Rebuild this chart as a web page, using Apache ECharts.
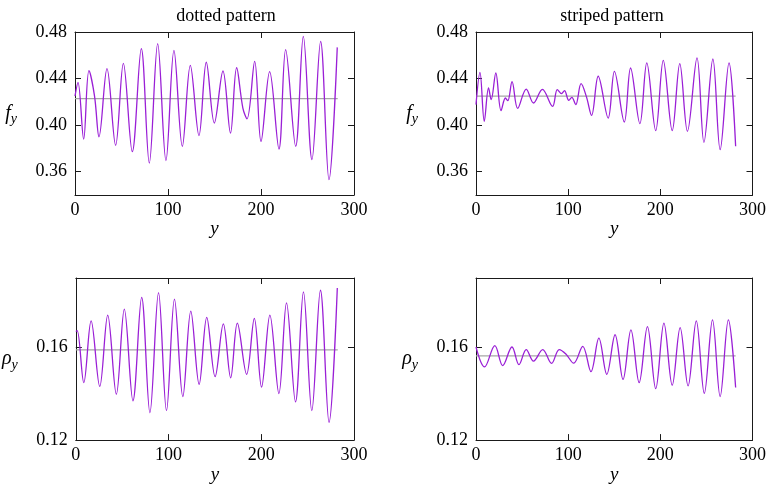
<!DOCTYPE html>
<html><head><meta charset="utf-8">
<script src="https://cdn.jsdelivr.net/npm/echarts@6/dist/echarts.min.js"></script>
<style>html,body{margin:0;padding:0;background:#fff}#c{width:769px;height:485px}</style>
</head><body><div id="c"></div><script>
// ---- data ----
const titles = ['dotted pattern', 'striped pattern'];
const xTicks = [0, 100, 200, 300];
const fTicks = [0.36, 0.40, 0.44, 0.48];
const rhoTicks = [0.12, 0.16];

const fDotted = [[0,0.425],[3.2,0.4368],[9.3,0.388],[15,0.4468],[21,0.425],[25.8,0.390],[34.4,0.4485],[43.7,0.3827],[52,0.453],[61.6,0.3772],[71.3,0.4657],[79.9,0.3675],[88.9,0.470],[97.8,0.3695],[106.4,0.4643],[115.4,0.3818],[124,0.4514],[133.3,0.391],[141.2,0.454],[149.8,0.4018],[159.1,0.4465],[167.2,0.3932],[173.8,0.4493],[180.5,0.4147],[185,0.4055],[193.2,0.4548],[200,0.386],[209.3,0.446],[219.3,0.3795],[226.5,0.4648],[237.3,0.3818],[245.5,0.4763],[254.8,0.3703],[264.1,0.472],[273.1,0.3532],[282,0.4668]];

const fStriped = [[0,0.4176],[4.3,0.4454],[9,0.4033],[13.6,0.432],[16.5,0.4219],[21.5,0.4448],[27.2,0.4124],[31.9,0.4233],[34.5,0.421],[39.1,0.4373],[45.2,0.4144],[54.5,0.431],[62.4,0.419],[72,0.4308],[83.1,0.4162],[88.2,0.4305],[92.8,0.427],[96,0.4296],[100.7,0.4213],[104,0.4239],[108.2,0.4176],[114,0.4356],[119.7,0.4247],[125.4,0.4084],[132.6,0.442],[143.4,0.4061],[150.2,0.4462],[160.9,0.4027],[167.7,0.4491],[177.8,0.4013],[185.3,0.4534],[195,0.3953],[203.2,0.4557],[212.9,0.3953],[221.1,0.4528],[229.4,0.3947],[239.8,0.4577],[247.3,0.3852],[257,0.4568],[264.9,0.3789],[274.5,0.4534],[281.7,0.3818]];

const rhoDotted = [[0,0.1669],[1.5,0.1673],[8.6,0.1448],[16.5,0.1715],[25.8,0.1432],[34.4,0.174],[43.7,0.1398],[52.3,0.1766],[61.6,0.137],[71,0.1816],[79.9,0.1318],[89.2,0.1837],[97.8,0.1327],[106.4,0.1809],[115.4,0.1388],[124,0.1757],[133,0.1441],[141.2,0.173],[150.2,0.1474],[159.1,0.1702],[167,0.1469],[174.2,0.1705],[184.2,0.1484],[192.5,0.1726],[200.3,0.1429],[209.3,0.174],[219,0.1401],[227.2,0.1793],[236.9,0.1365],[245.5,0.184],[254.5,0.1327],[263.8,0.1847],[273.1,0.1277],[282,0.1857]];

const rhoStriped = [[0,0.1602],[9.3,0.1516],[20.4,0.1608],[29,0.1522],[39,0.1602],[46.6,0.1526],[54.5,0.1591],[62.4,0.1541],[72.4,0.1591],[82,0.1531],[90.3,0.1591],[97.5,0.1572],[106,0.1532],[115.8,0.1605],[124.7,0.1496],[133.3,0.164],[141.9,0.1484],[150.9,0.1655],[159.5,0.1462],[168.1,0.1676],[177,0.1448],[186,0.169],[195,0.1422],[203.9,0.1705],[212.9,0.1437],[221.5,0.1686],[230.1,0.1434],[239,0.1715],[247.7,0.1402],[256.6,0.1719],[264.9,0.1388],[273.8,0.1719],[281.7,0.1427]];

const meanF = [0.4227, 0.425];
const meanRho = [0.159, 0.1564];
const meanEnd = [282.5, 281.7];

// ---- layout ----
const FONT = 'Liberation Serif';
const grids = [
  {left: 75, top: 32, width: 279, height: 163},
  {left: 476, top: 32, width: 279, height: 163},
  {left: 75, top: 278, width: 279, height: 163},
  {left: 476, top: 278, width: 279, height: 163}
];
const panels = [
  {curve: fDotted, mean: meanF[0], end: meanEnd[0], min: 0.34, max: 0.48, ticks: fTicks, sym: 'f'},
  {curve: fStriped, mean: meanF[1], end: meanEnd[1], min: 0.34, max: 0.48, ticks: fTicks, sym: 'f'},
  {curve: rhoDotted, mean: meanRho[0], end: meanEnd[0], min: 0.12, max: 0.19, ticks: rhoTicks, sym: 'ρ'},
  {curve: rhoStriped, mean: meanRho[1], end: meanEnd[1], min: 0.12, max: 0.19, ticks: rhoTicks, sym: 'ρ'}
];

const lineStyle = {color: '#1a1a1a', width: 1};
const xAxis = [], yAxis = [], series = [];
panels.forEach((p, i) => {
  const common = {gridIndex: i, type: 'value', min: xTicks[0], max: xTicks[xTicks.length - 1], interval: 100, splitLine: {show: false},
    axisLine: {show: true, onZero: false, lineStyle}, axisTick: {show: true, inside: true, length: 6, lineStyle}};
  xAxis.push(Object.assign({}, common, {position: 'bottom', name: 'y', nameLocation: 'middle', nameGap: 23,
    nameTextStyle: {fontFamily: FONT, fontStyle: 'italic', fontSize: 19, color: '#000'},
    axisLabel: {fontFamily: FONT, fontSize: 18, color: '#000', margin: 6}}));
  xAxis.push(Object.assign({}, common, {position: 'top', axisLabel: {show: false}}));
  const yc = {gridIndex: i, type: 'value', min: p.min, max: p.max, splitLine: {show: false}, axisLine: {show: true, onZero: false, lineStyle},
    axisTick: {show: true, inside: true, length: 6, lineStyle, customValues: p.ticks}};
  yAxis.push(Object.assign({}, yc, {position: 'left',
    name: '{a|' + p.sym + '}{b|y}', nameLocation: 'middle', nameRotate: 0, nameGap: 58,
    nameTextStyle: {rich: {
      a: {fontFamily: FONT, fontStyle: 'italic', fontSize: 20, color: '#000'},
      b: {fontFamily: FONT, fontStyle: 'italic', fontSize: 14, color: '#000', padding: [12, 0, 0, 0]}
    }},
    axisLabel: {fontFamily: FONT, fontSize: 18, color: '#000', margin: 8, customValues: p.ticks,
      formatter: v => v.toFixed(2)}}));
  yAxis.push(Object.assign({}, yc, {position: 'right', axisLabel: {show: false}}));
  series.push({type: 'line', xAxisIndex: 2 * i, yAxisIndex: 2 * i, data: [[0, p.mean], [p.end, p.mean]],
    showSymbol: false, silent: true, lineStyle: {color: '#a6a6a6', width: 1.2}, z: 2});
  series.push({type: 'line', xAxisIndex: 2 * i, yAxisIndex: 2 * i, data: p.curve,
    showSymbol: false, smooth: 0.36, silent: true, lineStyle: {color: '#9a1fd6', width: 1.3}, z: 3});
});

const chart = echarts.init(document.getElementById('c'), null, {renderer: 'canvas'});
chart.setOption({
  animation: false,
  backgroundColor: '#fff',
  textStyle: {fontFamily: FONT, color: '#000'},
  title: [
    {text: titles[0], left: 221, top: 2, textAlign: 'center', textStyle: {fontFamily: FONT, fontSize: 18, fontWeight: 'normal', color: '#000'}},
    {text: titles[1], left: 607, top: 2, textAlign: 'center', textStyle: {fontFamily: FONT, fontSize: 18, fontWeight: 'normal', color: '#000'}}
  ],
  grid: grids,
  xAxis, yAxis, series
});
</script></body></html>
